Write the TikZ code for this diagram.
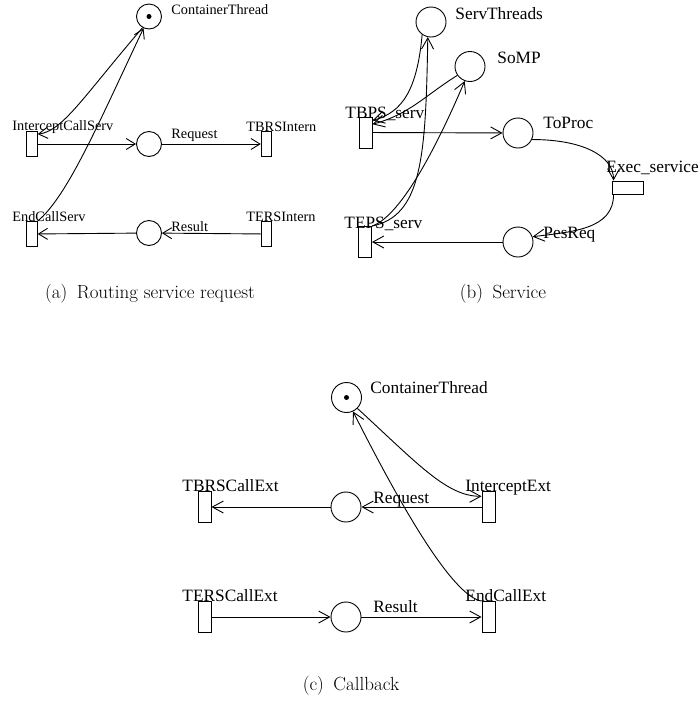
\documentclass[tikz,border=0pt]{standalone}
\usepackage{fontspec}
\newfontfamily\petri{Liberation Serif}
\usetikzlibrary{arrows.meta}

\begin{document}
\begin{tikzpicture}[x=1pt,y=1pt,line width=0.9pt,
  place/.style={draw,circle,inner sep=0pt,minimum size=25pt},
  bigplace/.style={place,minimum size=30pt},
  trans/.style={draw,rectangle,inner sep=0pt,minimum width=10.5pt,minimum height=25pt},
  bigtrans/.style={trans,minimum width=13pt,minimum height=31pt},
  token/.style={path picture={\fill (path picture bounding box.center) circle (2.5pt);}},
  lab/.style={anchor=base west,inner sep=0pt,font=\petri\fontsize{14.3}{16}\selectfont},
  biglab/.style={lab,font=\petri\fontsize{17.3}{20}\selectfont},
  subcap/.style={anchor=base,inner sep=0pt,font=\fontsize{19}{22}\selectfont},
  flow/.style={->,>={Straight Barb[length=9pt,width=11pt]}},
  bigflow/.style={->,>={Straight Barb[length=11pt,width=12pt]}}]
\useasboundingbox (0,0) rectangle (698,-702);

% (a) routing service request
\node[place,token] (A) at (149,-16.5) {};
\node[trans] (B) at (32,-144) {};
\node[place] (C) at (149,-144) {};
\node[trans] (D) at (266.5,-144) {};
\node[trans] (E) at (32,-234) {};
\node[place] (F) at (149,-233) {};
\node[trans] (G) at (266.5,-234) {};
\node[lab] (a) at (171,-14.5) {ContainerThread};
\node[lab] (b) at (12,-130) {InterceptCallServ};
\node[lab] (c) at (171,-138) {Request};
\node[lab] (d) at (246,-131) {TBRSIntern};
\node[lab] (e) at (12,-221) {EndCallServ};
\node[lab] (f) at (171,-231) {Result};
\node[lab] (g) at (246,-221) {TERSIntern};
\path[flow]
(B) edge (C)
(C) edge (D)
(G) edge (F)
(F) edge (E);
\draw[flow] (A.240) .. controls +(-60,-70) and +(25,3) .. (B.60);
\draw[flow] (E.north east) .. controls +(30,25) and +(-45,-95) .. (A.245);

% (b) service
\node[bigplace] (H) at (431,-22) {};
\node[bigplace] (I) at (470,-66.5) {};
\node[bigtrans] (J) at (365.5,-132.5) {};
\node[bigplace] (K) at (518,-133) {};
\node[bigtrans,minimum width=31pt,minimum height=13pt] (L) at (627.5,-187.5) {};
\node[bigtrans] (M) at (365,-242) {};
\node[bigplace] (N) at (518,-242) {};
\node[biglab] (h) at (455,-19.5) {ServThreads};
\node[biglab] (i) at (497,-63) {SoMP};
\node[biglab] (j) at (345,-118.5) {TBPS\_serv};
\node[biglab] (k) at (543,-128) {ToProc};
\node[biglab] (l) at (606,-172) {Exec\_service};
\node[biglab] (m) at (344,-228.5) {TEPS\_serv};
\node[biglab] (n) at (543,-238.5) {PesReq};
\path[bigflow]
(J) edge (K)
(N) edge (M)
(I.215) edge[out=212,in=15] (J.50);
\draw[bigflow] (K.-25) .. controls +(50,0) and +(0,25) .. ([xshift=2pt]L.north west);
\draw[bigflow] ([xshift=2pt]L.south west) .. controls +(0,-35) and +(40,5) .. (N.20);
\draw[bigflow] (H.235) .. controls +(-5,-55) and +(30,8) .. (J.60);
\draw[bigflow] (M.north east) .. controls +(50,10) and +(-2,-120) .. (H.258);
\draw[bigflow] (M.north east) .. controls +(30,10) and +(-25,-59) .. (I.250);

% (c) callback
\node[bigplace,token] (P) at (346.5,-397.5) {};
\node[bigtrans] (Q) at (204.5,-507) {};
\node[bigplace] (R) at (346,-507) {};
\node[bigtrans] (S) at (488.5,-507) {};
\node[bigtrans] (T) at (204.5,-617) {};
\node[bigplace] (U) at (346,-617) {};
\node[bigtrans] (V) at (488.5,-617) {};
\node[biglab] (p) at (370,-393) {ContainerThread};
\node[biglab] (q) at (182,-491.5) {TBRSCallExt};
\node[biglab] (r) at (373,-503) {Request};
\node[biglab] (s) at (465,-491.5) {InterceptExt};
\node[biglab] (t) at (182,-601.5) {TERSCallExt};
\node[biglab] (u) at (373,-612) {Result};
\node[biglab] (v) at (465,-601.5) {EndCallExt};
\path[bigflow]
(S) edge (R)
(R) edge (Q)
(T) edge (U)
(U) edge (V);
\draw[bigflow] (P.-45) .. controls +(60,-55) and +(-35,0) .. (S.123);
\draw[bigflow] (V.north west) .. controls +(-30,5) and +(45,-89) .. (P.-65);

% captions
\node[subcap] (X) at (150,-298) {(a)\hspace{0.5em}Routing service request};
\node[subcap] (Y) at (503,-298) {(b)\hspace{0.5em}Service};
\node[subcap] (Z) at (351,-690) {(c)\hspace{0.5em}Callback};
\end{tikzpicture}
\end{document}
